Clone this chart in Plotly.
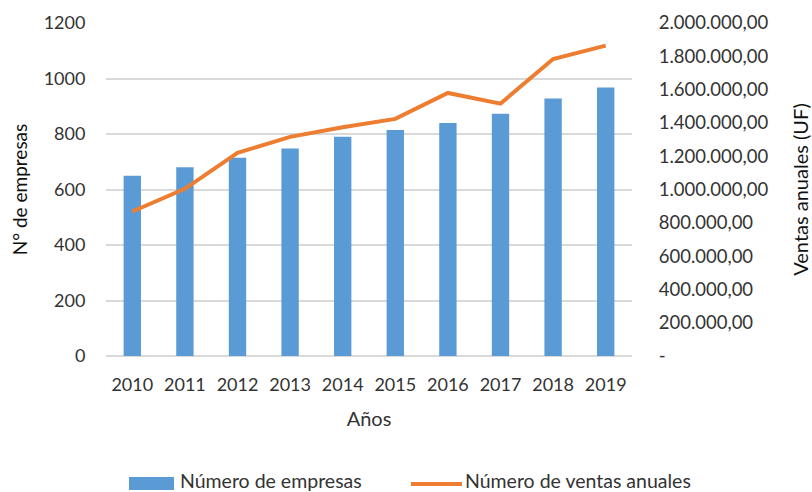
import plotly.graph_objects as go

years = ["2010", "2011", "2012", "2013", "2014", "2015", "2016", "2017", "2018", "2019"]
empresas = [650, 680, 714, 748, 790, 814, 840, 873, 928, 968]
ventas = [868000, 1004000, 1220000, 1316000, 1374000, 1424000, 1580000, 1516000, 1784000, 1864000]

left_ticks = [0, 200, 400, 600, 800, 1000, 1200]
right_ticks = [0, 200000, 400000, 600000, 800000, 1000000, 1200000, 1400000, 1600000, 1800000, 2000000]

series_names = ["Número de empresas", "Número de ventas anuales"]
BLUE = "#5B9BD5"
ORANGE = "#ED7D31"


def fmt_uf(v):
    if v == 0:
        return "-"
    s = f"{v:,.2f}"
    return s.replace(",", "X").replace(".", ",").replace("X", ".")


right_text = [fmt_uf(v) for v in right_ticks]

FONT = "Lato"
TXT = "#333333"
GRID = "#D9D9D9"

fig = go.Figure()
fig.add_trace(go.Bar(
    x=years, y=empresas, name=series_names[0],
    marker=dict(color=BLUE, line=dict(width=0)),
    yaxis="y",
))
fig.add_trace(go.Scatter(
    x=years, y=ventas, name=series_names[1],
    mode="lines", line=dict(color=ORANGE, width=4),
    yaxis="y2",
))

# legend drawn in the bottom margin, in pixel-like paper units
W, H = 812, 492
ML, MR, MT, MB = 106, 180, 23, 136
pw, ph = W - ML - MR, H - MT - MB


def px(x):
    return (x - ML) / pw


def py(y):
    return (H - MB - y) / ph


shapes = [
    dict(type="rect", xref="paper", yref="paper",
         x0=px(129), x1=px(174), y0=py(490), y1=py(477),
         fillcolor=BLUE, line=dict(width=0)),
    dict(type="line", xref="paper", yref="paper",
         x0=px(411), x1=px(462), y0=py(484), y1=py(484),
         line=dict(color=ORANGE, width=4)),
]
annotations = [
    dict(xref="paper", yref="paper", x=px(178), y=py(481), text=series_names[0],
         showarrow=False, xanchor="left", yanchor="middle",
         font=dict(size=19.5, color=TXT)),
    dict(xref="paper", yref="paper", x=px(463), y=py(481), text=series_names[1],
         showarrow=False, xanchor="left", yanchor="middle",
         font=dict(size=19.5, color=TXT)),
]

fig.update_layout(
    width=W, height=H,
    margin=dict(l=ML, r=MR, t=MT, b=MB, autoexpand=False),
    plot_bgcolor="white", paper_bgcolor="white",
    font=dict(family=FONT, size=18, color=TXT),
    bargap=0.67,
    showlegend=False,
    shapes=shapes,
    annotations=annotations,
    xaxis=dict(
        title=dict(text="Años", font=dict(size=20, color=TXT), standoff=18),
        showgrid=False, showline=False, zeroline=False,
        ticks="outside", ticklen=12, tickcolor="rgba(0,0,0,0)",
        tickfont=dict(size=18, color=TXT),
    ),
    yaxis=dict(
        title=dict(text="N° de empresas", font=dict(size=19, color="#111111"), standoff=10),
        range=[0, 1200], tickvals=left_ticks,
        showgrid=True, gridcolor=GRID, gridwidth=1.5,
        zeroline=True, zerolinecolor=GRID, zerolinewidth=1.5,
        showline=False,
        ticks="outside", ticklen=16, tickcolor="rgba(0,0,0,0)",
        tickfont=dict(size=18, color=TXT),
    ),
    yaxis2=dict(
        title=dict(text="Ventas anuales (UF)", font=dict(size=20, color="#111111"), standoff=26),
        overlaying="y", side="right",
        range=[0, 2000000], tickvals=right_ticks, ticktext=right_text,
        showgrid=False, zeroline=False, showline=False,
        ticks="outside", ticklen=22, tickcolor="rgba(0,0,0,0)",
        tickfont=dict(size=18.5, color=TXT),
    ),
)

fig.write_html("out.html")
